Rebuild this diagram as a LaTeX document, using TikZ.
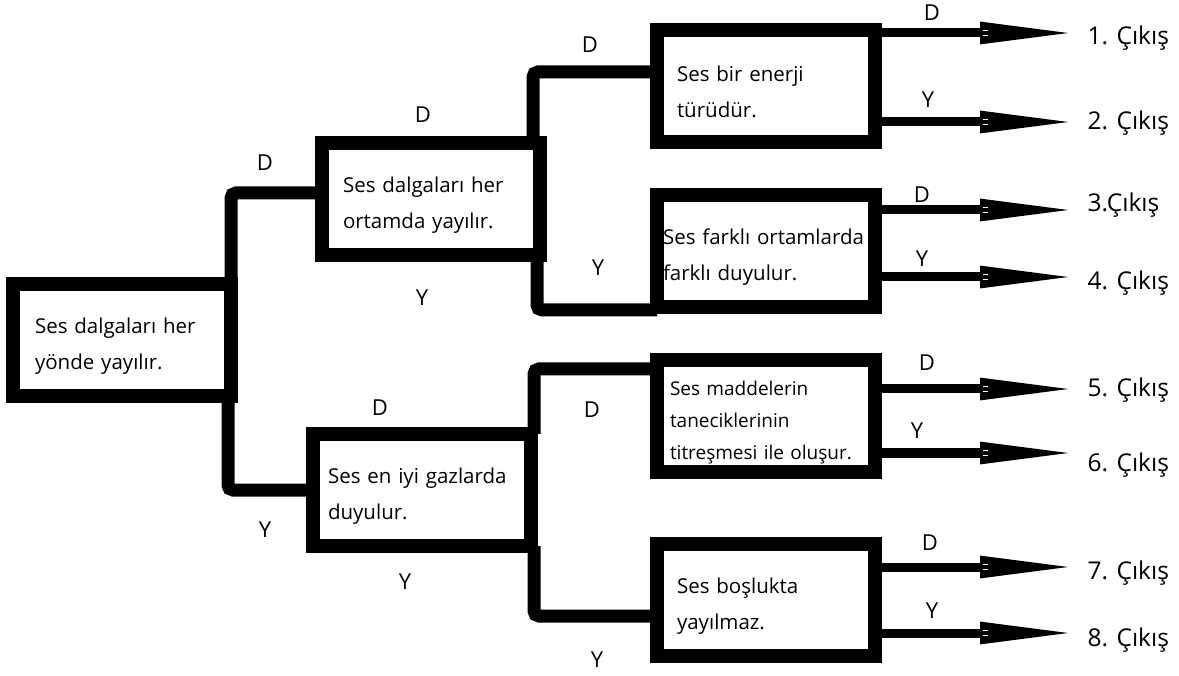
\documentclass[tikz,border=0pt]{standalone}
\usepackage{fontspec}
\setmainfont{Open Sans}
\usepackage{tikz}
\usetikzlibrary{arrows.meta}

\begin{document}
\begin{tikzpicture}[x=1pt,y=-1pt,
    soru/.style={draw=black,line width=14pt,fill=white,minimum width=218pt,minimum height=112pt,
      inner sep=0pt,outer sep=0pt,align=left,text width=178pt,font=\fontsize{20.5}{36}\selectfont,
      execute at begin node={\rule{0pt}{27pt}}},
    kol/.style={black,line width=13pt,rounded corners=5pt},
    cikis/.style={black,line width=9pt,-{Stealth[length=97pt,width=20pt,inset=0pt]}},
    harf/.style={font=\fontsize{22}{24}\selectfont},
    sonuc/.style={anchor=west,font=\fontsize{24.5}{26}\selectfont}]
\useasboundingbox (0,0) rectangle (1179,676);

% sorular
\node[soru,text width=174pt] (kok) at (122,340) {Ses dalgaları her\\yönde yayılır.};
\node[soru,text width=176pt] (s2) at (431,199) {Ses dalgaları her\\ortamda yayılır.};
\node[soru] (s3) at (766,86) {Ses bir enerji\\türüdür.};
\node[soru,text width=206pt] (s4) at (766,251) {Ses farklı ortamlarda\\farklı duyulur.};
\node[soru,text width=192pt,font=\fontsize{19}{32}\selectfont] (s5) at (766,416) {Ses maddelerin\\taneciklerinin\\titreşmesi ile oluşur.};
\node[soru] (s6) at (766,600) {Ses boşlukta\\yayılmaz.};
\node[soru,text width=188pt] (s7) at (422,490) {Ses en iyi gazlarda\\duyulur.};

% kollar
\draw[kol] (kok.north east) |- ([yshift=6pt]s2.west);
\draw[kol] ([xshift=-3pt]kok.south east) |- (s7.west);
\draw[kol] ([xshift=-7pt]s2.north east) |- ([yshift=14pt]s3.west);
\draw[kol] ([xshift=-3pt]s2.south east) |- ([yshift=-3pt]s4.south west);
\draw[kol] ([xshift=3pt]s7.north east) |- ([yshift=-9pt]s5.north west);
\draw[kol] ([xshift=3pt]s7.south east) |- ([yshift=-16pt]s6.west);

% cikislar
\coordinate (u1) at (1077,33);
\coordinate (u2) at (1077,122);
\coordinate (u3) at (1077,210);
\coordinate (u4) at (1077,277);
\coordinate (u5) at (1077,389);
\coordinate (u6) at (1077,453);
\coordinate (u7) at (1077,567);
\coordinate (u8) at (1077,633);
\draw[cikis] (s3.east |- u1) -- (u1);
\draw[cikis] (s3.east |- u2) -- (u2);
\draw[cikis] (s4.east |- u3) -- (u3);
\draw[cikis] (s4.east |- u4) -- (u4);
\draw[cikis] (s5.east |- u5) -- (u5);
\draw[cikis] (s5.east |- u6) -- (u6);
\draw[cikis] (s6.east |- u7) -- (u7);
\draw[cikis] (s6.east |- u8) -- (u8);
\foreach \i in {1,...,8} {
  \draw[white,line width=1.2pt] ([xshift=-94pt,yshift=2.5pt]u\i) -- ++(5,0);
  \draw[white,line width=1.2pt] ([xshift=-94pt,yshift=-2.5pt]u\i) -- ++(5,0);
}

\node[sonuc] (c1) at (1084,38) {1. Çıkış};
\node[sonuc] (c2) at (1084,123) {2. Çıkış};
\node[sonuc] (c3) at (1084,205) {3.Çıkış};
\node[sonuc] (c4) at (1084,283) {4. Çıkış};
\node[sonuc] (c5) at (1084,390) {5. Çıkış};
\node[sonuc] (c6) at (1084,465) {6. Çıkış};
\node[sonuc] (c7) at (1084,573) {7. Çıkış};
\node[sonuc] (c8) at (1084,640) {8. Çıkış};

% D / Y
\node[harf] (h1) at (265,163) {D};
\node[harf] (h2) at (265,530) {Y};
\node[harf] (h3) at (423,115) {D};
\node[harf] (h4) at (422,298) {Y};
\node[harf] (h5) at (590,45) {D};
\node[harf] (h6) at (598,268) {Y};
\node[harf] (h7) at (380,408) {D};
\node[harf] (h8) at (405,582) {Y};
\node[harf] (h9) at (592,410) {D};
\node[harf] (h10) at (597,660) {Y};
\node[harf] (h11) at (932,13) {D};
\node[harf] (h12) at (928,100) {Y};
\node[harf] (h13) at (922,195) {D};
\node[harf] (h14) at (922,259) {Y};
\node[harf] (h15) at (927,363) {D};
\node[harf] (h16) at (917,431) {Y};
\node[harf] (h17) at (930,543) {D};
\node[harf] (h18) at (932,611) {Y};
\end{tikzpicture}
\end{document}
